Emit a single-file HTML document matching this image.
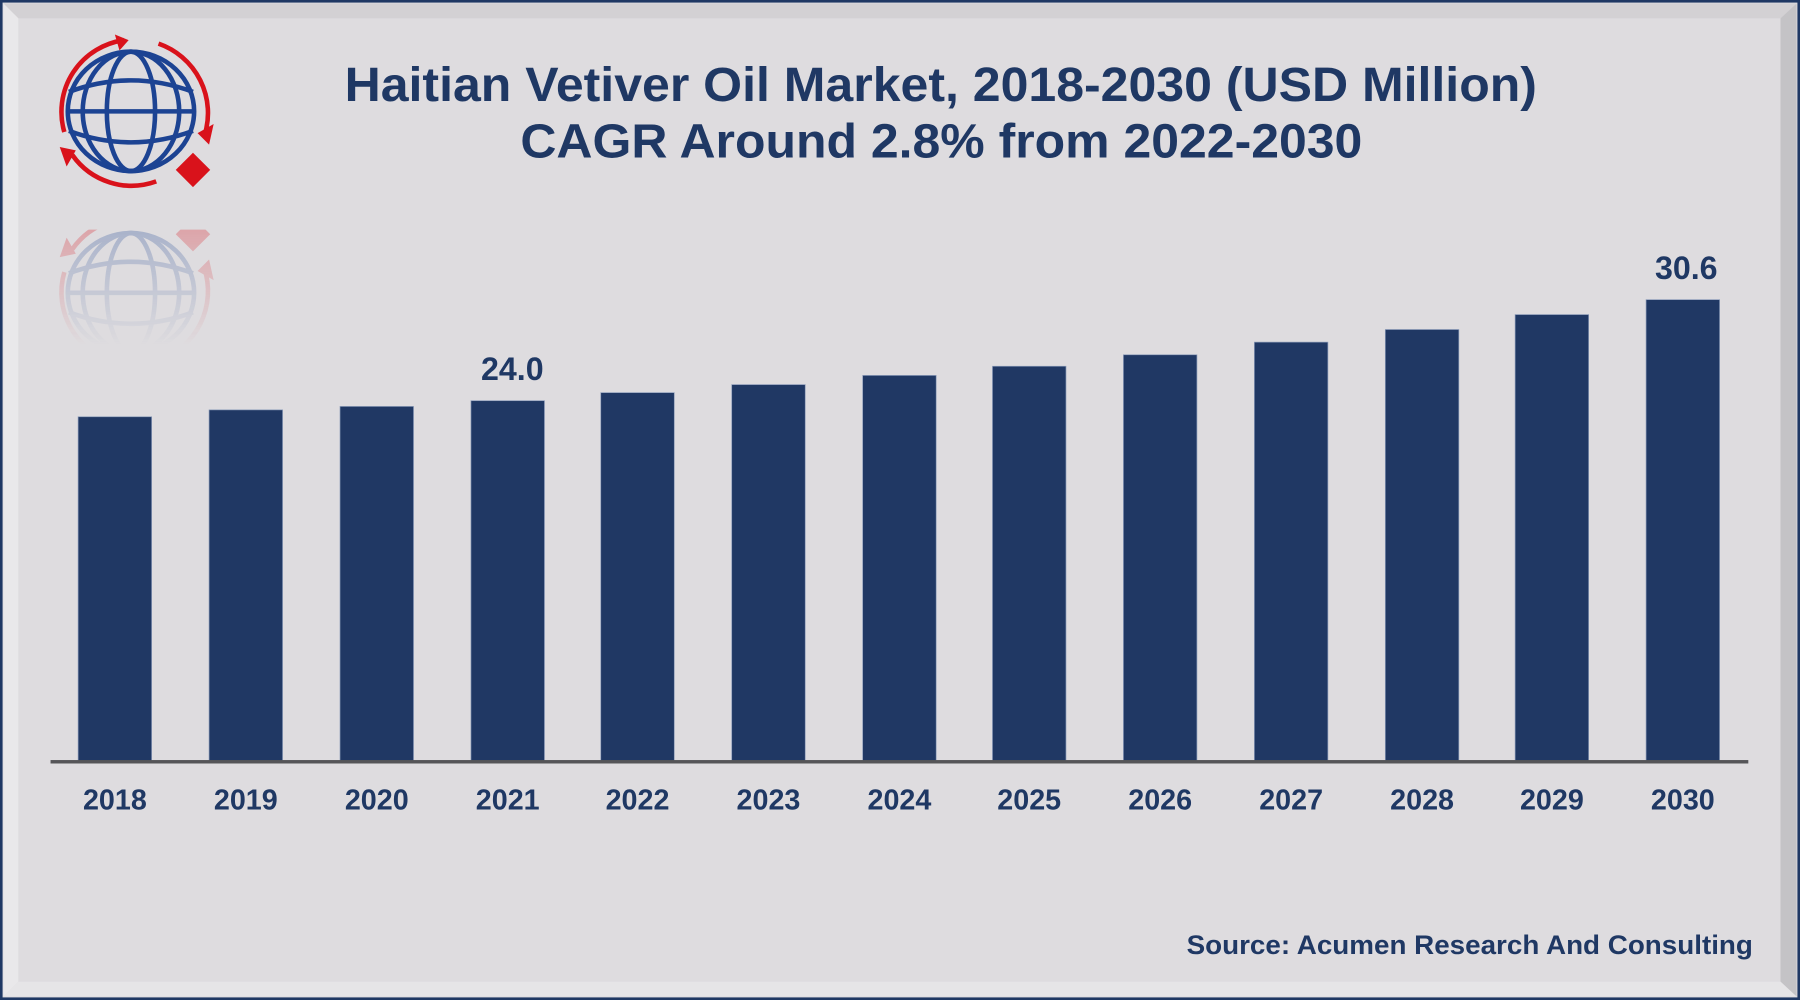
<!DOCTYPE html>
<html><head><meta charset="utf-8"><style>
html,body{margin:0;padding:0;width:1800px;height:1000px;overflow:hidden;background:#dedcdf}
svg{display:block}
</style></head><body>
<svg width="1800" height="1000" viewBox="0 0 1567 871" preserveAspectRatio="none" xmlns="http://www.w3.org/2000/svg">
<defs>
<linearGradient id="fade" x1="0" y1="0" x2="0" y2="1">
<stop offset="0" stop-color="#fff" stop-opacity="0.45"/>
<stop offset="1" stop-color="#fff" stop-opacity="0"/>
</linearGradient>
<mask id="m"><rect x="0" y="200" width="300" height="100" fill="url(#fade)"/></mask>
<g id="logo">
<g fill="none" stroke="#1c4393" stroke-width="4">
<ellipse cx="114" cy="97" rx="55" ry="52"/>
<ellipse cx="114" cy="97" rx="21" ry="52"/>
<ellipse cx="114" cy="97" rx="42" ry="52"/>
<path d="M60 80 Q114 60 168 80"/>
<path d="M59 97 L169 97"/>
<path d="M60 114 Q114 134 168 114"/>
</g>
<g fill="none" stroke="#d9121b" stroke-width="4">
<path d="M56 115 A63 63 0 0 1 108 35"/>
<path d="M138 38 A64 64 0 0 1 178 118"/>
<path d="M63 135 A63 63 0 0 0 136 158"/>
</g>
<path d="M100 30 L112 35 L104 44 Z" fill="#d9121b"/>
<path d="M172 116 L186 108 L182 126 Z" fill="#d9121b"/>
<path d="M58 145 L52 128 L66 131 Z" fill="#d9121b"/>
<path d="M168 133 L183 148 L168 163 L153 148 Z" fill="#d9121b"/>
</g>
</defs>
<rect x="0" y="0" width="1567" height="871" fill="#dedcdf"/>
<rect x="1" y="1" width="1565" height="869" fill="none" stroke="#1f3864" stroke-width="2.5"/>
<path d="M3 3 L1564 3 L1550 16 L16 16 Z" fill="#d3d1d4"/>
<path d="M3 3 L16 16 L16 855 L3 868 Z" fill="#e9e8ea"/>
<path d="M1564 3 L1564 868 L1550 855 L1550 16 Z" fill="#c4c3c6"/>
<path d="M3 868 L16 855 L1550 855 L1564 868 Z" fill="#e6e5e7"/>
<rect x="16" y="16" width="1534" height="839" fill="#dedcdf"/>
<use href="#logo"/>
<g mask="url(#m)"><use href="#logo" transform="translate(0,352) scale(1,-1)" opacity="0.6"/></g>
<g font-family="Liberation Sans, Arial, sans-serif" font-weight="bold" fill="#1f3864">
<text x="300" y="88" font-size="42" textLength="1038" lengthAdjust="spacingAndGlyphs">Haitian Vetiver Oil Market, 2018-2030 (USD Million)</text>
<text x="453" y="137" font-size="42" textLength="733" lengthAdjust="spacingAndGlyphs">CAGR Around 2.8% from 2022-2030</text>
</g>
<g fill="#203864" stroke="#8a9ab8" stroke-width="0.6">
<rect x="68" y="363" width="64" height="300"/>
<rect x="182" y="357" width="64" height="306"/>
<rect x="296" y="354" width="64" height="309"/>
<rect x="410" y="349" width="64" height="314"/>
<rect x="523" y="342" width="64" height="321"/>
<rect x="637" y="335" width="64" height="328"/>
<rect x="751" y="327" width="64" height="336"/>
<rect x="864" y="319" width="64" height="344"/>
<rect x="978" y="309" width="64" height="354"/>
<rect x="1092" y="298" width="64" height="365"/>
<rect x="1206" y="287" width="64" height="376"/>
<rect x="1319" y="274" width="64" height="389"/>
<rect x="1433" y="261" width="64" height="402"/>
</g>
<rect x="44" y="662" width="1478" height="3" fill="#555558"/>
<g font-family="Liberation Sans, Arial, sans-serif" font-weight="bold" fill="#1f3864" text-anchor="middle" font-size="25">
<text x="100" y="705">2018</text><text x="214" y="705">2019</text><text x="328" y="705">2020</text>
<text x="442" y="705">2021</text><text x="555" y="705">2022</text><text x="669" y="705">2023</text>
<text x="783" y="705">2024</text><text x="896" y="705">2025</text><text x="1010" y="705">2026</text>
<text x="1124" y="705">2027</text><text x="1238" y="705">2028</text><text x="1351" y="705">2029</text>
<text x="1465" y="705">2030</text>
<text x="446" y="331" font-size="28">24.0</text>
<text x="1468" y="243" font-size="28">30.6</text>
</g>
<text x="1033" y="831" font-family="Liberation Sans, Arial, sans-serif" font-weight="bold" fill="#1f3864" font-size="23" textLength="493" lengthAdjust="spacingAndGlyphs">Source: Acumen Research And Consulting</text>
</svg>
</body></html>
